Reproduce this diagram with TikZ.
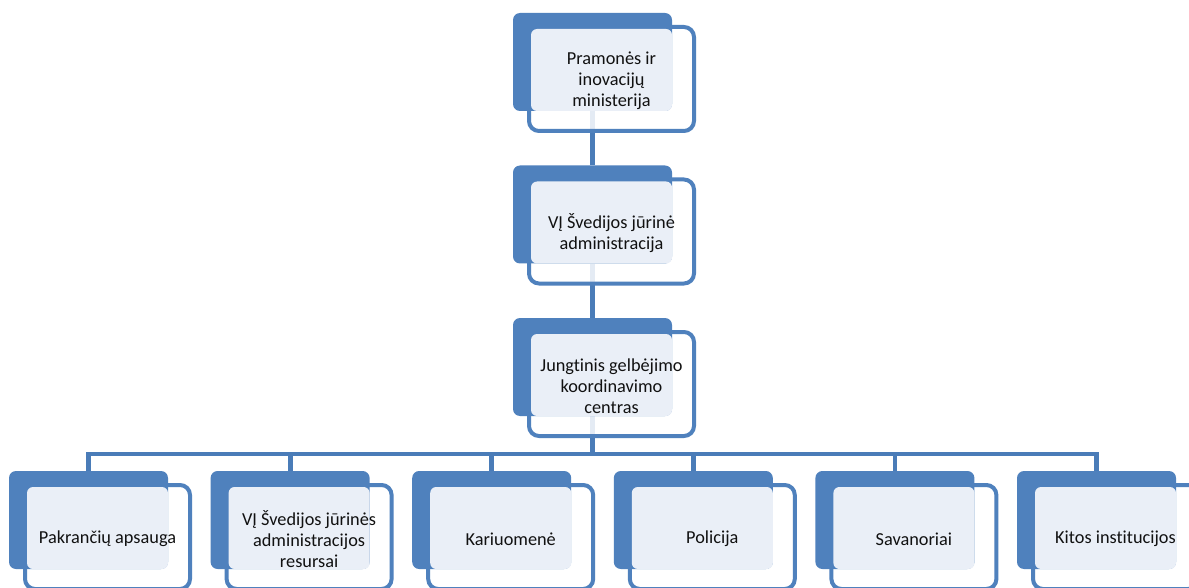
\documentclass[tikz,border=0pt]{standalone}
\usepackage{fontspec}
\setmainfont{Carlito}[Ligatures={NoCommon}]
\usetikzlibrary{backgrounds}
\definecolor{sblue}{HTML}{4F81BD}
\definecolor{sline}{HTML}{4A7CB8}
\definecolor{slight}{HTML}{EAEFF7}
\definecolor{stext}{HTML}{111111}
\newcommand\orgbox[4]{%
  \node[framebox] (#1f) at (#2+98.5,#3+66) {};
  \node[backbox] (#1) at (#2+79.5,#3+49) {};
  \node[lightbox] (#1l) at (#2+88.5,#3+57) {};
  \node[boxlabel] (#1t) at (#2+98.5,#3+68) {#4};
}
\begin{document}
\begin{tikzpicture}[x=1pt,y=-1pt,
  backbox/.style={fill=sblue, rounded corners=7pt, minimum width=159pt, minimum height=98pt, inner sep=0pt, draw=none},
  framebox/.style={draw=sblue, line width=4pt, fill=white, fill opacity=0.85, draw opacity=1, rounded corners=10pt, minimum width=165pt, minimum height=104pt, inner sep=0pt},
  lightbox/.style={fill=slight, rounded corners=6pt, minimum width=141pt, minimum height=82pt, inner sep=0pt},
  boxlabel/.style={text=stext, font=\fontsize{18.3}{21}\selectfont, align=center, inner sep=0pt},
  conn/.style={draw=sline, line width=4.8pt, line join=miter}
]
\useasboundingbox (0,0) rectangle (1189,588);

\orgbox{n1}{513}{13}{Pramonės ir\\inovacijų\\ministerija}
\orgbox{n2}{513}{165.5}{VĮ Švedijos jūrinė\\administracija}
\orgbox{n3}{513}{318}{Jungtinis gelbėjimo\\koordinavimo\\centras}

\orgbox{c1}{9}{471}{Pakrančių apsauga}
\orgbox{c2}{210.6}{471}{VĮ Švedijos jūrinės\\administracijos\\resursai}
\orgbox{c3}{412.2}{471}{Kariuomenė}
\orgbox{c4}{613.8}{471}{Policija}
\orgbox{c5}{815.4}{471}{Savanoriai}
\orgbox{c6}{1017}{471}{Kitos institucijos}

\coordinate (bus) at (0,454);
\begin{scope}[on background layer]
  \fill[white] (0,0) rectangle (1189,588);
  \draw[conn] (n1.south) -- (n2.north);
  \draw[conn] (n2.south) -- (n3.north);
  \draw[conn] (n3.south) -- (n3.south |- bus);
  \foreach \c in {c1,c2,c3,c4,c5,c6}
    \draw[conn] (n3.south |- bus) -| (\c.north);
\end{scope}
\end{tikzpicture}
\end{document}
